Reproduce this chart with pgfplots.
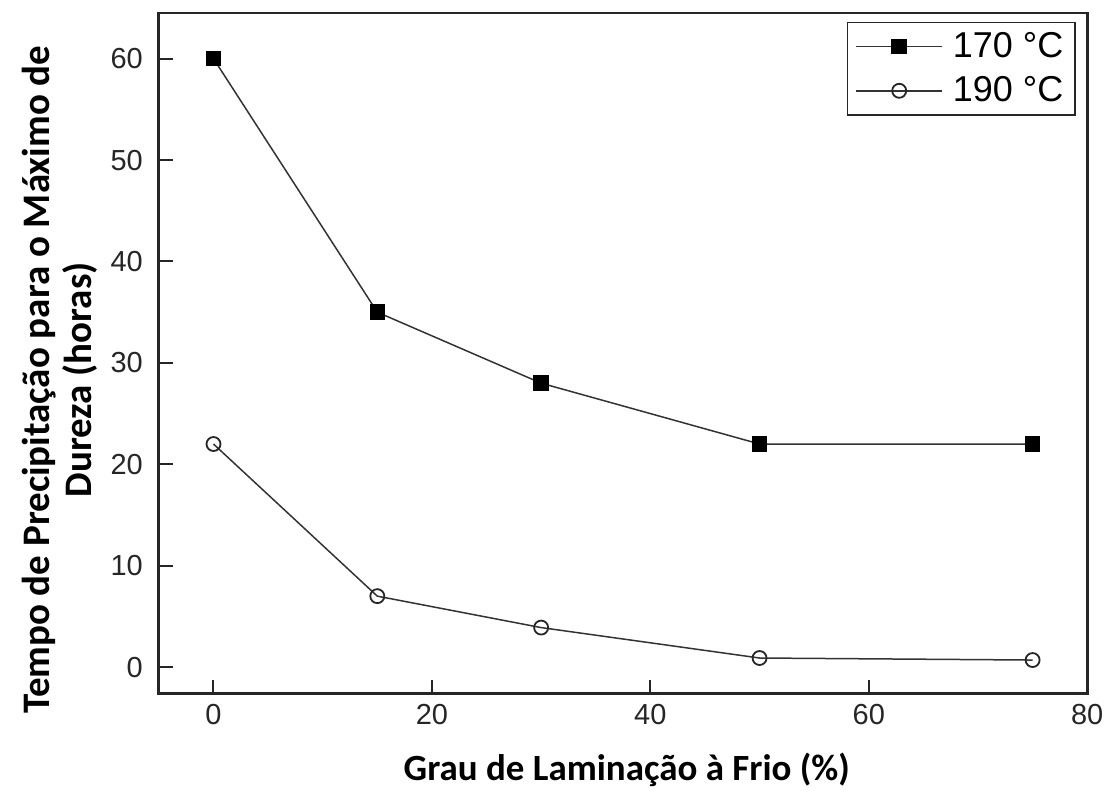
\documentclass[border=0pt]{standalone}
\usepackage{fontspec}
\setmainfont{Liberation Sans}
\newfontfamily\labelfont{Carlito}
\usepackage{pgfplots}
\pgfplotsset{compat=1.18}

\begin{document}
\begin{tikzpicture}
\begin{axis}[
    scale only axis,
    width=464.5pt, height=340.5pt,
    xmin=-5, xmax=80,
    ymin=-2.6, ymax=64.5,
    xtick={0,20,...,80},
    ytick={0,10,...,60},
    tick pos=left,
    tick align=inside,
    major tick length=7pt,
    axis line style={black!85, line width=1.4pt},
    every tick/.style={black!85, line width=1pt},
    /pgf/number format/assume math mode=true,
    tick label style={font=\fontsize{14.5}{17}\selectfont, text=black!85},
    xticklabel style={yshift=-2pt},
    yticklabel style={xshift=-4.5pt},
    xlabel={Grau de Laminação à Frio (\%)},
    ylabel={Tempo de Precipitação para o Máximo de\\Dureza (horas)},
    xlabel style={font=\labelfont\bfseries\fontsize{18.5}{21}\selectfont,
        at={(axis description cs:0.504,-0.1116)}, anchor=center},
    ylabel style={font=\labelfont\bfseries\fontsize{19.5}{21}\selectfont,
        at={(axis description cs:-0.1066,0.461)}, anchor=center, align=center},
    legend style={at={(axis description cs:0.988,0.987)}, anchor=north east,
        draw=black!85, line width=0.8pt,
        font=\fontsize{18}{22}\selectfont,
        inner xsep=4pt, inner ysep=3pt,
        row sep=4pt, cells={anchor=west}},
    legend image code/.code={
        \draw[mark repeat=2, mark phase=2, #1]
        plot coordinates {(0pt,0pt) (21.5pt,0pt) (43pt,0pt)};},
    legend cell align=left,
]
\addplot[black!80, line width=0.75pt, mark=square*,
    mark options={fill=black, draw=black, solid}, mark size=3.5pt]
    coordinates {(0,60) (15,35) (30,28) (50,22) (75,22)};
\addlegendentry{\hspace{3pt}170 °C}
\addplot[black!80, line width=0.75pt, mark=o,
    mark options={fill=white, draw=black!85, line width=0.9pt}, mark size=3.5pt]
    coordinates {(0,22) (15,7) (30,3.9) (50,0.9) (75,0.7)};
\addlegendentry{\hspace{3pt}190 °C}
\end{axis}
\path ([shift={(-79.5pt,-45.5pt)}]current axis.south west)
    rectangle ([shift={(11pt,6.5pt)}]current axis.north east);
\end{tikzpicture}
\end{document}
